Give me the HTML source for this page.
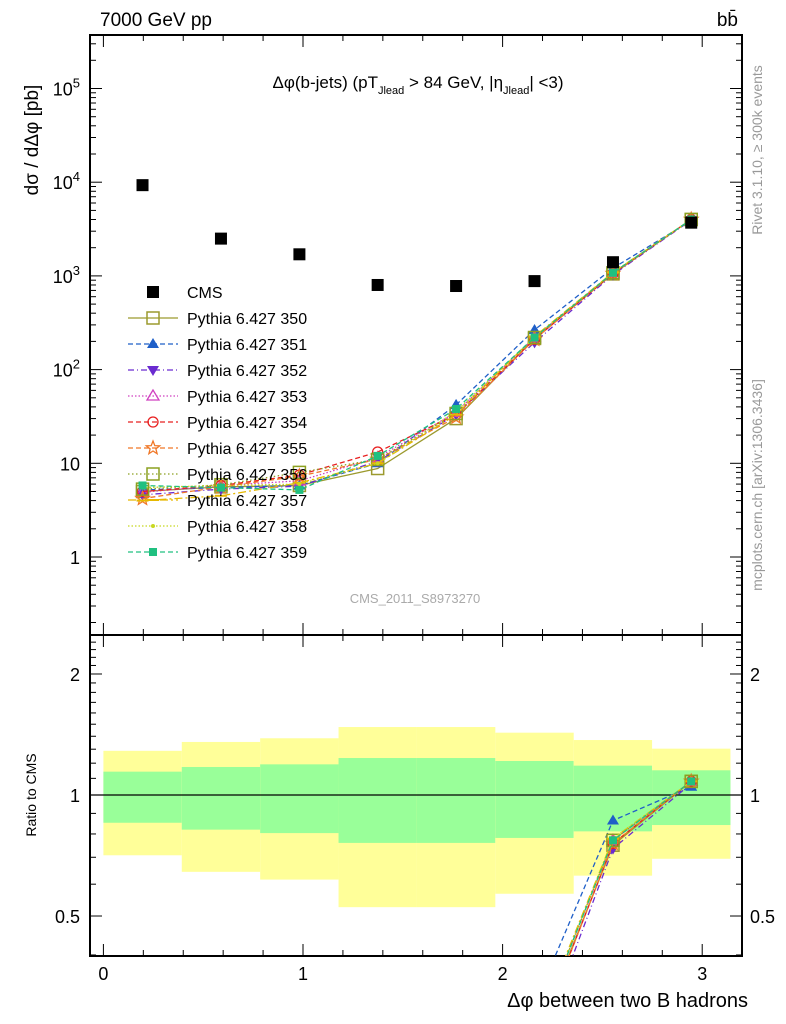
<!DOCTYPE html>
<html><head><meta charset="utf-8"><style>
html,body{margin:0;padding:0;background:#fff;width:786px;height:1024px;overflow:hidden}
svg{display:block;font-family:"Liberation Sans",sans-serif}
</style></head><body>
<svg id="c" width="786" height="1024" viewBox="0 0 786 1024" xmlns="http://www.w3.org/2000/svg">
<defs>
<clipPath id="clipM"><rect x="90" y="35" width="652" height="600"/></clipPath>
<clipPath id="clipR"><rect x="90" y="635" width="652" height="321"/></clipPath>
</defs>
<g id="bands"></g>
<g id="axes"></g>
<g id="series"></g>
<text x="100" y="26" font-size="19">7000 GeV pp</text>
<text x="738" y="26" font-size="19" text-anchor="end">bb̄</text>
<text x="418" y="88" font-size="17" text-anchor="middle">Δφ(b-jets) (pT<tspan font-size="11" dy="6">Jlead</tspan><tspan dy="-6"> &gt;  84 GeV, |η</tspan><tspan font-size="11" dy="6">Jlead</tspan><tspan dy="-6">| &lt;3)</tspan></text>
<text transform="translate(38,140) rotate(-90)" font-size="19" text-anchor="middle">dσ / dΔφ [pb]</text>
<text transform="translate(36,795) rotate(-90)" font-size="14" text-anchor="middle">Ratio to CMS</text>
<text x="748" y="1007" font-size="20" text-anchor="end">Δφ between two B hadrons</text>
<text transform="translate(762,150) rotate(-90)" font-size="14" fill="#999" text-anchor="middle">Rivet 3.1.10, ≥ 300k events</text>
<text transform="translate(762,485) rotate(-90)" font-size="14" fill="#999" text-anchor="middle">mcplots.cern.ch [arXiv:1306.3436]</text>
<text x="415" y="603" font-size="13" fill="#aaa" text-anchor="middle">CMS_2011_S8973270</text>
<g id="legend"></g>
</svg>
<script>
const binEdges=[0,0.3927,0.7854,1.1781,1.5708,1.9635,2.3562,2.7489,3.1416];
const binCenters=[0.196,0.589,0.982,1.374,1.767,2.160,2.553,2.945];
const cmsValues=[9300,2500,1700,800,780,880,1400,3700];
const yellowUp=[1.288,1.355,1.384,1.476,1.476,1.429,1.37,1.304];
const yellowLo=[0.708,0.644,0.616,0.526,0.526,0.568,0.63,0.694];
const greenUp=[1.143,1.174,1.192,1.236,1.236,1.215,1.183,1.152];
const greenLo=[0.853,0.82,0.804,0.76,0.76,0.782,0.812,0.842];
const seriesNames=["Pythia 6.427 350","Pythia 6.427 351","Pythia 6.427 352","Pythia 6.427 353","Pythia 6.427 354","Pythia 6.427 355","Pythia 6.427 356","Pythia 6.427 357","Pythia 6.427 358","Pythia 6.427 359"];
const s350=[5.0,5.6,5.8,8.8,30,215,1050,4000];
const s351=[5.2,5.5,5.8,10,42,265,1210,3880];
const s352=[4.6,5.3,5.7,10.5,33,195,1030,3950];
const s353=[4.9,5.8,6.5,11.5,35,220,1080,4000];
const s354=[5.0,5.8,7.5,13.2,33,210,1060,4000];
const s355=[4.2,5.6,7.3,11,31,210,1060,4000];
const s356=[5.3,5.9,8.0,11,34,220,1080,4000];
const s357=[4.0,4.5,6.2,10,33,225,1090,4000];
const s358=[5.5,5.8,6.0,10,36,220,1090,4000];
const s359=[5.8,5.5,5.2,12,38,220,1080,4000];
const seriesValues=[s350,s351,s352,s353,s354,s355,s356,s357,s358,s359];
const styles=[
 {c:"#9c9a2e",d:"",m:"osq"},{c:"#1f5fc8",d:"5,3",m:"tri"},{c:"#6a2bd0",d:"6,3,1,3",m:"tridn"},
 {c:"#d040c0",d:"1.5,2",m:"otri"},{c:"#e82020",d:"5,3",m:"ocirc"},{c:"#f07828",d:"5,3",m:"star"},
 {c:"#8ca020",d:"1.5,2.5",m:"osq"},{c:"#e6b800",d:"8,3,2,3",m:"none"},{c:"#c8d820",d:"1.5,2",m:"dot"},{c:"#20c080",d:"5,3",m:"sq"}];
const NS="http://www.w3.org/2000/svg";
const X0=103.4,XU=199.6;
const xs=v=>X0+v*XU;
const ym=v=>557-Math.log10(v)*93.7;
const yr=v=>795-Math.log10(v)*402;
function mk(tag,attrs,parent){const e=document.createElementNS(NS,tag);for(const k in attrs)e.setAttribute(k,attrs[k]);parent.appendChild(e);return e;}
const bands=document.getElementById('bands'),axes=document.getElementById('axes'),ser=document.getElementById('series'),leg=document.getElementById('legend');
for(let i=0;i<8;i++){
 const x1=xs(binEdges[i]),x2=Math.min(xs(binEdges[i+1]),742);
 const r=mk('rect',{x:x1,y:yr(yellowUp[i]),width:x2-x1,height:yr(yellowLo[i])-yr(yellowUp[i]),fill:"#ffff99"},bands);
 
 
 const g=mk('rect',{x:x1,y:yr(greenUp[i]),width:x2-x1,height:yr(greenLo[i])-yr(greenUp[i]),fill:"#99ff99"},bands);
 
 
}
mk('line',{x1:90,x2:742,y1:yr(1),y2:yr(1),stroke:"#000","stroke-width":1.2},bands);
mk('rect',{x:90,y:35,width:652,height:600,fill:"none",stroke:"#000","stroke-width":2},axes);
mk('rect',{x:90,y:635,width:652,height:321,fill:"none",stroke:"#000","stroke-width":2},axes);
for(let i=0;i<=16;i++){const v=i*0.2;const x=xs(v);if(x>742)break;const L=(i%5==0)?12:6;
 [[35,1],[635,-1],[635,1],[956,-1]].forEach(([y,d])=>mk('line',{x1:x,x2:x,y1:y,y2:y+d*L,stroke:"#000","stroke-width":1},axes));
 if(i%5==0){const t=mk('text',{x:x,y:980,"font-size":18,"text-anchor":"middle"},axes);t.textContent=String(i/5);
 
 }
}
for(let e=-1;e<=5;e++){for(let m=1;m<=9;m++){const v=m*Math.pow(10,e);const y=ym(v);if(y<35||y>635)continue;const L=m==1?12:6;
 mk('line',{x1:90,x2:90+L,y1:y,y2:y,stroke:"#000"},axes);mk('line',{x1:742,x2:742-L,y1:y,y2:y,stroke:"#000"},axes);}
 if(e>=0){const y=ym(Math.pow(10,e));const t=mk('text',{x:80,y:y+7,"font-size":18,"text-anchor":"end"},axes);
  if(e<2)t.textContent=e==0?"1":"10";else{t.textContent="10";const ts=mk('tspan',{dy:-8,"font-size":13},t);ts.textContent=String(e);}
  
  }
}
[0.4,0.5,0.6,0.7,0.8,0.9,1,1.1,1.2,1.3,1.4,1.5,1.6,1.7,1.8,1.9,2,2.1,2.2,2.3,2.4,2.5].forEach(v=>{const y=yr(v);if(y<635||y>956)return;const L=(v==0.5||v==1||v==2)?12:6;
 mk('line',{x1:90,x2:90+L,y1:y,y2:y,stroke:"#000"},axes);mk('line',{x1:742,x2:742-L,y1:y,y2:y,stroke:"#000"},axes);});
[["0.5",0.5],["1",1],["2",2]].forEach(([s,v])=>{const y=yr(v)+7;
 const a=mk('text',{x:80,y:y,"font-size":18,"text-anchor":"end"},axes);a.textContent=s;
 
 
 const b=mk('text',{x:750,y:y,"font-size":18},axes);b.textContent=s;
 
 });
function marker(p,x,y,s){const c=s.c;
 switch(s.m){
 case"osq":return mk('rect',{x:x-6,y:y-6,width:12,height:12,fill:"none",stroke:c,"stroke-width":1.5},p);
 case"sq":return mk('rect',{x:x-4,y:y-4,width:8,height:8,fill:c},p);
 case"tri":return mk('polygon',{points:`${x},${y-6} ${x-6},${y+4} ${x+6},${y+4}`,fill:c},p);
 case"tridn":return mk('polygon',{points:`${x},${y+6} ${x-6},${y-4} ${x+6},${y-4}`,fill:c},p);
 case"otri":return mk('polygon',{points:`${x},${y-6} ${x-6},${y+4} ${x+6},${y+4}`,fill:"none",stroke:c,"stroke-width":1.3},p);
 case"ocirc":return mk('circle',{cx:x,cy:y,r:5,fill:"none",stroke:c,"stroke-width":1.3},p);
 case"star":{let pts=[];for(let k=0;k<10;k++){const r=k%2?3:7,a=-Math.PI/2+k*Math.PI/5;pts.push((x+r*Math.cos(a)).toFixed(1)+","+(y+r*Math.sin(a)).toFixed(1));}return mk('polygon',{points:pts.join(" "),fill:"none",stroke:c,"stroke-width":1.3},p);}
 case"dot":return mk('circle',{cx:x,cy:y,r:2,fill:c},p);
 default:return mk('line',{x1:x-6,x2:x+6,y1:y,y2:y,stroke:c,"stroke-width":2},p);}
}
const gm=mk('g',{"clip-path":"url(#clipM)"},ser),gr=mk('g',{"clip-path":"url(#clipR)"},ser);
seriesValues.forEach((vals,si)=>{const s=styles[si];
 const pm=vals.map((v,i)=>xs(binCenters[i]).toFixed(1)+","+ym(v).toFixed(1)).join(" ");
 const l=mk('polyline',{points:pm,fill:"none",stroke:s.c,"stroke-width":1.3,"stroke-dasharray":s.d},gm);
 
 
 const pr=vals.map((v,i)=>xs(binCenters[i]).toFixed(1)+","+yr(v/cmsValues[i]).toFixed(1)).join(" ");
 const lr=mk('polyline',{points:pr,fill:"none",stroke:s.c,"stroke-width":1.3,"stroke-dasharray":s.d},gr);
 
 
 vals.forEach((v,i)=>{const m=marker(gm,xs(binCenters[i]),ym(v),s);
  
  
  const m2=marker(gr,xs(binCenters[i]),yr(v/cmsValues[i]),s);
  
  });
});
cmsValues.forEach((v,i)=>{const r=mk('rect',{x:xs(binCenters[i])-6,y:ym(v)-6,width:12,height:12,fill:"#000"},gm);
 
 });
const ly0=292;
{const r=mk('rect',{x:147,y:ly0-6,width:12,height:12,fill:"#000"},leg);
 const t=mk('text',{x:187,y:ly0+6,"font-size":16},leg);t.textContent="CMS";}
seriesNames.forEach((n,si)=>{const s=styles[si],y=ly0+26*(si+1);
 mk('line',{x1:128,x2:178,y1:y,y2:y,stroke:s.c,"stroke-width":1.3,"stroke-dasharray":s.d},leg);
 marker(leg,153,y,s);
 const t=mk('text',{x:187,y:y+6,"font-size":16},leg);t.textContent=n;
 
 });
</script>
</body></html>
